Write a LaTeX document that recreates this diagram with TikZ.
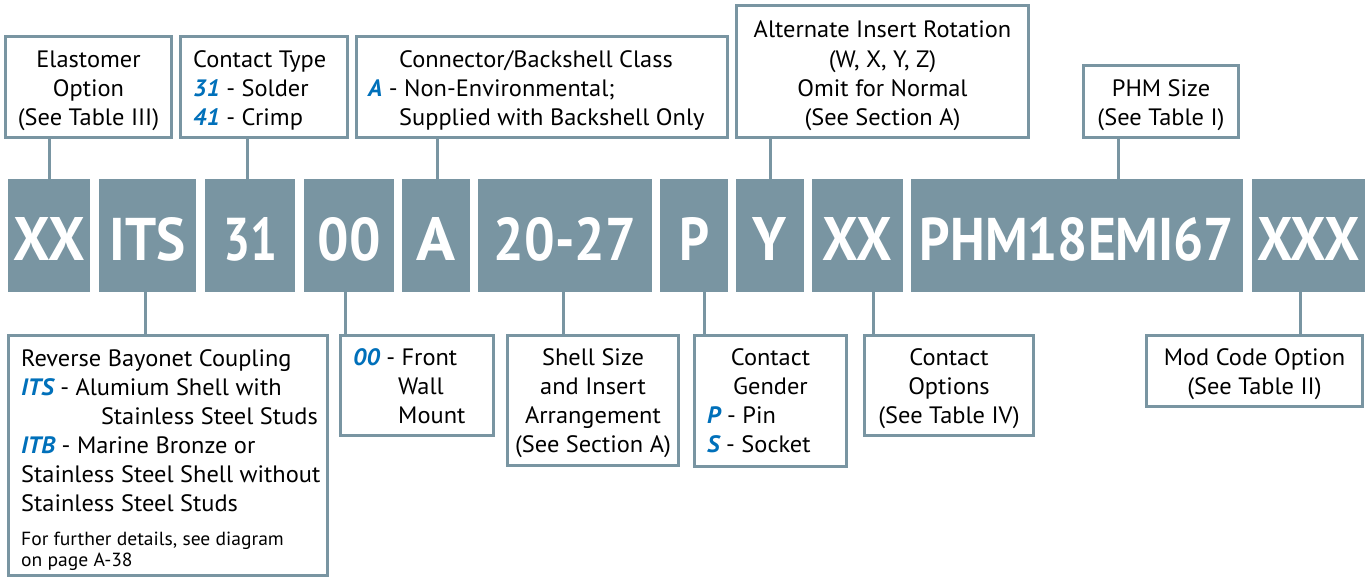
\documentclass[tikz,border=0pt]{standalone}
\usepackage{fontspec}
\setmainfont[FakeStretch=1.03]{PT Sans}
\usepackage{graphicx}
\definecolor{steel}{RGB}{121,149,162}
\definecolor{codeblue}{RGB}{0,112,186}
\newcounter{tlc}
\newcommand\tline[4]{\stepcounter{tlc}\node[txt,anchor=#1] (t\arabic{tlc}) at (#2,#3) {#4};}
\newcommand\sline[4]{\stepcounter{tlc}\node[txt,font=\fontsize{19}{22}\selectfont,anchor=#1] (t\arabic{tlc}) at (#2,#3) {#4};}
\newcommand\bluetxt[1]{\textcolor{codeblue}{\bfseries\itshape #1}}
\newcommand\codetxt[2]{\resizebox{#1pt}{43pt}{\bfseries #2}}
\newcommand\mkbox[5]{\node[tb,minimum width={#4-#2-3},minimum height={#5-#3-3}] (#1) at ({(#2+#4)/2},{(#3+#5)/2}) {};}
\newcommand\mkcode[5]{\node[cb,minimum width={#3-#2}] (#1) at ({(#2+#3)/2},235.5) {\codetxt{#4}{#5}};}
\begin{document}
\begin{tikzpicture}[x=1pt,y=-1pt,
  tb/.style={draw=steel,line width=3pt,fill=white,inner sep=0pt},
  cb/.style={fill=steel,minimum height=113pt,inner sep=0pt,text=white,text height=49pt,text depth=0pt},
  txt/.style={inner sep=0pt,font=\fontsize{23.7}{28}\selectfont},
  conn/.style={draw=steel,line width=3pt}]
\useasboundingbox (0,0) rectangle (1369,578);
% code boxes
\mkcode{xxa}{8}{90}{71}{XX}
\mkcode{its}{99}{196}{76}{ITS}
\mkcode{c31}{205}{295}{54}{31}
\mkcode{c00}{304}{394}{63}{00}
\mkcode{ca}{402}{470}{39}{A}
\mkcode{c2027}{478}{652}{142}{20-27}
\mkcode{cp}{660}{728}{30}{P}
\mkcode{cy}{736}{804}{34}{Y}
\mkcode{xxb}{812}{903}{69}{XX}
\mkcode{phm}{911}{1243}{314}{PHM18EMI67}
\mkcode{xxx}{1252}{1365}{102}{XXX}
% top boxes
\mkbox{E}{4}{35}{173}{139}
\mkbox{C}{179}{35}{349}{139}
\mkbox{K}{355}{35}{729}{139}
\mkbox{R}{735}{4}{1030}{139}
\mkbox{S}{1082}{64}{1240}{139}
% bottom boxes
\mkbox{B}{7}{334}{329}{577}
\mkbox{F}{339}{334}{495}{437}
\mkbox{G}{506}{334}{680}{467}
\mkbox{H}{693}{334}{848}{468}
\mkbox{O}{863}{334}{1035}{437}
\mkbox{M}{1145}{334}{1364}{408}
% connectors top
\draw[conn] (xxa.north) -- (xxa.north |- E.south);
\draw[conn] ([xshift=-3pt]c31.north) -- ([xshift=-3pt]c31.north |- C.south);
\draw[conn] ([xshift=1pt]ca.north) -- ([xshift=1pt]ca.north |- K.south);
\draw[conn] (cy.north) -- (cy.north |- R.south);
\draw[conn] ([xshift=41pt]phm.north) -- ([xshift=41pt]phm.north |- S.south);
% connectors bottom
\draw[conn] ([xshift=-2.5pt]its.south) -- ([xshift=-2.5pt]its.south |- B.north);
\draw[conn] ([xshift=-4pt]c00.south) -- ([xshift=-4pt]c00.south |- F.north);
\draw[conn] ([xshift=-2pt]c2027.south) -- ([xshift=-2pt]c2027.south |- G.north);
\draw[conn] ([xshift=10pt]cp.south) -- ([xshift=10pt]cp.south |- H.north);
\draw[conn] ([xshift=15.5pt]xxb.south) -- ([xshift=15.5pt]xxb.south |- O.north);
\draw[conn] ([xshift=-8.5pt]xxx.south) -- ([xshift=-8.5pt]xxx.south |- M.north);
% top texts
\tline{base}{88.5}{67}{Elastomer}
\tline{base}{88.5}{96}{Option}
\tline{base}{88.5}{125}{(See Table III)}
\tline{base west}{193}{67}{Contact Type}
\tline{base west}{193}{96}{\bluetxt{31} - Solder}
\tline{base west}{193}{125}{\bluetxt{41} - Crimp}
\tline{base west}{399}{67}{Connector/Backshell Class}
\tline{base west}{368}{96}{\bluetxt{A} - Non-Environmental;}
\tline{base west}{399}{125}{Supplied with Backshell Only}
\tline{base}{882.5}{38}{Alternate Insert Rotation}
\tline{base}{882.5}{67}{(W, X, Y, Z)}
\tline{base}{882.5}{96}{Omit for Normal}
\tline{base}{882.5}{125}{(See Section A)}
\tline{base}{1161}{96}{PHM Size}
\tline{base}{1161}{125}{(See Table I)}
% bottom texts
\tline{base west}{21}{366}{Reverse Bayonet Coupling}
\tline{base west}{21}{395}{\bluetxt{ITS} - Alumium Shell with}
\tline{base east}{318}{424}{Stainless Steel Studs}
\tline{base west}{21}{453}{\bluetxt{ITB} - Marine Bronze or}
\tline{base west}{21}{482}{Stainless Steel Shell without}
\tline{base west}{21}{511}{Stainless Steel Studs}
\sline{base west}{21}{545}{For further details, see diagram}
\sline{base west}{21}{566}{on page A-38}
\tline{base west}{353}{365}{\bluetxt{00} - Front}
\tline{base west}{398}{394}{Wall}
\tline{base west}{398}{423}{Mount}
\tline{base}{593}{365}{Shell Size}
\tline{base}{593}{394}{and Insert}
\tline{base}{593}{423}{Arrangement}
\tline{base}{593}{452}{(See Section A)}
\tline{base}{770.5}{365}{Contact}
\tline{base}{770.5}{394}{Gender}
\tline{base west}{707}{423}{\bluetxt{P} - Pin}
\tline{base west}{707}{452}{\bluetxt{S} - Socket}
\tline{base}{949}{365}{Contact}
\tline{base}{949}{394}{Options}
\tline{base}{949}{423}{(See Table IV)}
\tline{base}{1254.5}{365}{Mod Code Option}
\tline{base}{1254.5}{394}{(See Table II)}
\end{tikzpicture}
\end{document}
